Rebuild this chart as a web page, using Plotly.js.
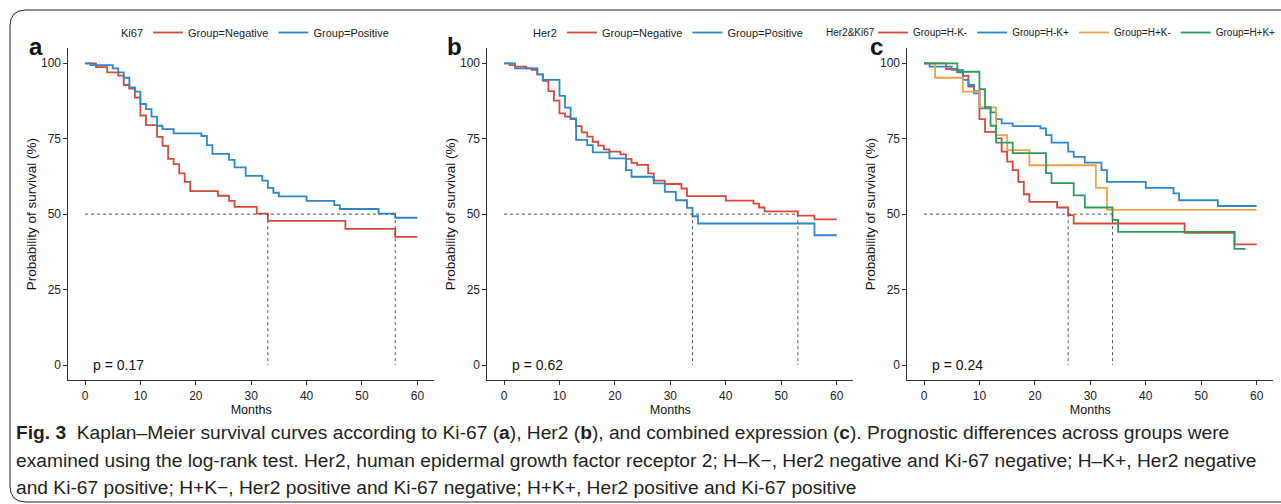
<!DOCTYPE html>
<html><head><meta charset="utf-8">
<script src="https://cdn.plot.ly/plotly-3.0.1.min.js"></script>
<style>html,body{margin:0;padding:0;background:#fff}#chart{width:1281px;height:504px}</style>
</head><body><div id="chart"></div>
<script>
// ---------- data (months, survival %) ----------
const monthTicks = [0, 10, 20, 30, 40, 50, 60];
const survTicks = [0, 25, 50, 75, 100];

// Panel a: Ki67
const aNegTime = [0,2,4,6,7,8,9,10,11,13,14,15,16,17,18,19,24,26,27,31,33,47,56,60];
const aNegSurv = [100,98.7,97,95.9,92.8,91.6,88.6,82.7,79.5,75.6,72.6,68.3,66.6,63.5,60.7,57.6,56.1,54.4,52.4,50.2,47.8,45.1,42.5,42.5];
const aPosTime = [0,1,5,6,7,8,9,10,11,12,13,14,16,21,22,23,26,27,29,32,33,34,35,40,45,46,53,56,60];
const aPosSurv = [100,99.4,98.3,97,95.2,92,90.6,86.5,84.8,82.3,79.3,78.2,76.8,75.9,72.9,70,68,65.5,62.7,61.1,58.7,57.1,55.9,54.4,53,51.7,50.2,48.8,48.8];
const aMedians = [33, 56];
const aPval = "p = 0.17";

// Panel b: Her2
const bNegTime = [0,1,2,4,5,6,7,8,9,10,11,12,13,14,15,16,17,18,19,21,22,23,24,26,27,29,32,33,40,45,46,47,53,56,60];
const bNegSurv = [100,99.4,98.9,98.3,97.8,96.3,94.2,90.8,87.6,83.4,82.3,81.5,79.2,77.1,75.7,74,72.7,71.5,70.7,69.8,68.3,67,66.3,63.5,61.1,60,58.5,56,54.5,53.5,52.2,50.9,49.5,48.3,48.3];
const bPosTime = [0,2,6,7,10,11,12,13,15,16,19,22,23,27,29,31,33,34,35,56,60];
const bPosSurv = [100,98.3,96.3,94.5,89.2,85.3,81.7,74.6,72.9,70.5,68.5,64.6,62.4,60.2,57.4,54.6,52.1,49.3,46.9,43,43];
const bMedians = [34, 53];
const bPval = "p = 0.62";

// Panel c: Her2 & Ki67
const cHKnTime = [0,4,6,7,8,9,10,11,13,14,15,16,17,18,19,24,26,27,47,56,60];
const cHKnSurv = [100,98.1,97,95.8,92.3,90.8,81.5,77.3,75.1,70.7,67.4,64.6,60.7,56.6,54.1,52.2,49.7,46.9,43.8,40,40];
const cHKpTime = [0,1,5,7,8,9,10,12,13,14,16,21,22,23,26,27,29,32,33,40,45,46,53,60];
const cHKpSurv = [100,98.9,97.8,94.5,92.8,90,85.1,83.7,81.5,80.1,79.2,78.4,76.2,73.7,70.7,69,67.1,64.6,60.7,58.7,56.9,54.6,52.7,52.7];
const cHpKnTime = [0,2,7,10,13,15,19,31,33,60];
const cHpKnSurv = [100,95.2,90.6,85.4,76.2,71.2,66.2,58.7,51.4,51.4];
const cHpKpTime = [0,6,10,11,12,13,16,22,23,27,29,34,35,56,58];
const cHpKpSurv = [100,97.2,91.4,85.5,79.3,73.7,70.2,63.6,60.3,56.2,52.2,48.1,44.1,38.5,38.5];
const cMedians = [26, 34];
const cPval = "p = 0.24";

const legendTitles = ["Ki67", "Her2", "Her2&amp;Ki67"];
const panelLetters = ["a", "b", "c"];
const captionLines = [
  "<b>Fig. 3</b>  Kaplan–Meier survival curves according to Ki-67 (<b>a</b>), Her2 (<b>b</b>), and combined expression (<b>c</b>). Prognostic differences across groups were",
  "examined using the log-rank test. Her2, human epidermal growth factor receptor 2; H–K−, Her2 negative and Ki-67 negative; H–K+, Her2 negative",
  "and Ki-67 positive; H+K−, Her2 positive and Ki-67 negative; H+K+, Her2 positive and Ki-67 positive"
];

// ---------- styling / layout ----------
const W = 1281, H = 504;
const px = x => x / W;
const py = y => 1 - y / H;
const FONT = "Liberation Sans, Arial, sans-serif";
const RED = "#D64A3B", BLUE = "#2F86C8", ORANGE = "#EFA246", GREEN = "#2E9B5A";

const panels = [
  {xa: "x", ya: "y", leg: "legend", x0: 68.4, x1: 434,
   series: [[aNegTime, aNegSurv, "Group=Negative", RED], [aPosTime, aPosSurv, "Group=Positive", BLUE]],
   med: aMedians, p: aPval, legX: 148, legAnchor: "left", titleRight: 145, legFont: 11},
  {xa: "x2", ya: "y2", leg: "legend2", x0: 487.4, x1: 853.3,
   series: [[bNegTime, bNegSurv, "Group=Negative", RED], [bPosTime, bPosSurv, "Group=Positive", BLUE]],
   med: bMedians, p: bPval, legX: 562, legAnchor: "left", titleRight: 559, legFont: 11},
  {xa: "x3", ya: "y3", leg: "legend3", x0: 907.4, x1: 1273.3,
   series: [[cHKnTime, cHKnSurv, "Group=H-K-", RED], [cHKpTime, cHKpSurv, "Group=H-K+", BLUE],
            [cHpKnTime, cHpKnSurv, "Group=H+K-", ORANGE], [cHpKpTime, cHpKpSurv, "Group=H+K+", GREEN]],
   med: cMedians, p: cPval, legX: 1281, legAnchor: "right", titleRight: 877, legFont: 10}
];

const traces = [];
const layout = {
  width: W, height: H,
  margin: {l: 0, r: 0, t: 0, b: 0},
  paper_bgcolor: "#fff", plot_bgcolor: "#fff",
  font: {family: FONT, color: "#222"},
  showlegend: true,
  annotations: [], shapes: []
};

panels.forEach((P, i) => {
  P.series.forEach(s => {
    traces.push({
      type: "scatter", mode: "lines", x: s[0], y: s[1], name: s[2],
      xaxis: P.xa, yaxis: P.ya, legend: P.leg,
      line: {shape: "hv", color: s[3], width: 1.8},
      hoverinfo: "x+y+name"
    });
  });
  // median lines (horizontal to largest median, vertical at each median)
  const mx = [], my = [];
  mx.push(0, Math.max(...P.med), null); my.push(50, 50, null);
  P.med.forEach(m => { mx.push(m, m, null); my.push(50, 0, null); });
  traces.push({
    type: "scatter", mode: "lines", x: mx, y: my, xaxis: P.xa, yaxis: P.ya,
    showlegend: false, hoverinfo: "skip", connectgaps: false,
    line: {color: "#555", width: 1, dash: "3px,3px"}
  });

  const sfx = i === 0 ? "" : String(i + 1);
  layout["xaxis" + sfx] = {
    domain: [px(P.x0), px(P.x1)], range: [-3, 63], anchor: "y" + sfx,
    tickvals: monthTicks, ticktext: monthTicks.map(String),
    ticks: "outside", ticklen: 4, tickcolor: "#333", tickwidth: 1,
    showline: true, linecolor: "#333", linewidth: 1,
    showgrid: false, zeroline: false, fixedrange: true,
    tickfont: {size: 12, color: "#222", family: FONT},
    title: {text: "Months", font: {size: 12.5, color: "#111", family: FONT}, standoff: 3}
  };
  layout["yaxis" + sfx] = {
    domain: [py(380.1), py(48.2)], range: [-5, 105], anchor: "x" + sfx,
    tickvals: survTicks, ticktext: survTicks.map(String),
    ticks: "outside", ticklen: 4, tickcolor: "#333", tickwidth: 1,
    showline: true, linecolor: "#333", linewidth: 1,
    showgrid: false, zeroline: false, fixedrange: true,
    tickfont: {size: 12, color: "#222", family: FONT},
    title: {text: "Probability of survival (%)", font: {size: 13.5, color: "#111", family: FONT}, standoff: 1}
  };

  layout[P.leg] = {
    orientation: "h", x: px(P.legX), xanchor: P.legAnchor, y: py(32.5), yanchor: "middle",
    bgcolor: "rgba(0,0,0,0)", borderwidth: 0, itemwidth: 30,
    font: {size: P.legFont, color: "#222", family: FONT},
    itemclick: false, itemdoubleclick: false
  };
  // legend title
  layout.annotations.push({
    xref: "paper", yref: "paper", x: px(P.titleRight), y: py(32.5), xanchor: "right", yanchor: "middle",
    text: legendTitles[i], showarrow: false, font: {size: P.legFont, color: "#222", family: FONT}
  });

  // p-value
  layout.annotations.push({
    xref: P.xa, yref: P.ya, x: 1, y: 0, xanchor: "left", yanchor: "middle",
    text: P.p, showarrow: false, font: {size: 14, color: "#111", family: FONT}
  });
  // panel letter
  layout.annotations.push({
    xref: "paper", yref: "paper", x: px([27, 445, 868][i]), y: py(46.7),
    xanchor: "left", yanchor: "middle", text: "<b>" + panelLetters[i] + "</b>",
    showarrow: false, font: {size: 24, color: "#111", family: FONT}
  });
});

// caption
const capY = [432, 460, 487];
captionLines.forEach((t, k) => {
  layout.annotations.push({
    xref: "paper", yref: "paper", x: px(14), y: py(capY[k]), xanchor: "left", yanchor: "middle",
    text: t, showarrow: false, align: "left",
    font: {size: 19.2, color: "#231f20", family: FONT}
  });
});

// rounded frame around the figure (open on the right)
layout.shapes.push({
  type: "path", xref: "paper", yref: "paper",
  path: `M ${px(1290)},${py(10)} L ${px(26)},${py(10)} Q ${px(10)},${py(10)} ${px(10)},${py(26)} ` +
        `L ${px(10)},${py(486)} Q ${px(10)},${py(502)} ${px(26)},${py(502)} L ${px(1290)},${py(502)}`,
  line: {color: "#222", width: 1}
});

Plotly.newPlot("chart", traces, layout, {displayModeBar: false, responsive: false, staticPlot: false});
</script></body></html>
